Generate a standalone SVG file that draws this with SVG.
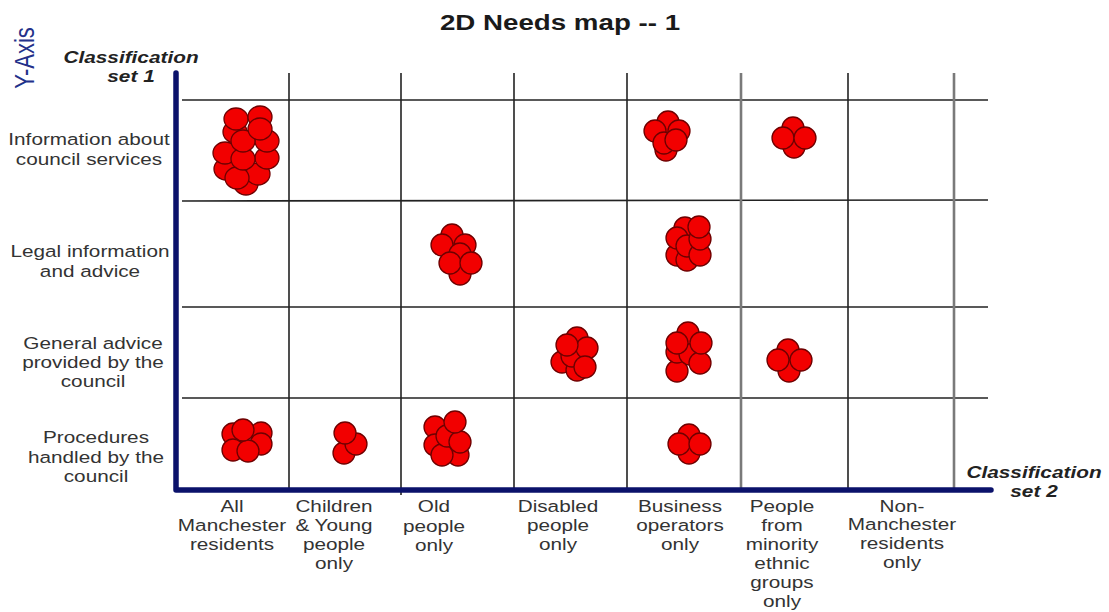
<svg xmlns="http://www.w3.org/2000/svg" width="1109" height="612" viewBox="0 0 1109 612">
<style>
.bg{fill:#fff}
.c{fill:#f20000;stroke:#6e0000;stroke-width:1.3}
.g{stroke:#222;stroke-width:1.6;fill:none}
.gg{stroke:#7a7a7a;stroke-width:2.6;fill:none}
.ax{stroke:#0b126b;stroke-width:5.5;fill:none;stroke-linecap:round;stroke-linejoin:round}
.lbl{font-family:"Liberation Sans",Arial,sans-serif;font-size:17px;fill:#333;text-anchor:middle}
.cls{font-family:"Liberation Sans",Arial,sans-serif;font-size:16px;font-weight:bold;font-style:italic;fill:#222;text-anchor:middle}
.ttl{font-family:"Liberation Sans",Arial,sans-serif;font-size:22px;font-weight:bold;fill:#1a1a1a;text-anchor:middle}
.yax{font-family:"Liberation Sans",Arial,sans-serif;font-size:22px;fill:#23318a;text-anchor:middle}
</style>
<rect class="bg" x="0" y="0" width="1109" height="612"/>

<g id="title" transform="translate(560,30) scale(1.26,1)"><text class="ttl" x="0" y="0">2D Needs map -- 1</text></g>
<g id="y-axis-label" transform="translate(34,58) rotate(-90) scale(1,1.25)"><text class="yax" x="0" y="0">Y-Axis</text></g>
<g id="class-set-1" transform="translate(131,0) scale(1.3,1)"><text class="cls" x="0" y="63">Classification</text><text class="cls" x="0" y="82">set 1</text></g>
<g id="class-set-2" transform="translate(1034,0) scale(1.3,1)"><text class="cls" x="0" y="478">Classification</text><text class="cls" x="0" y="497">set 2</text></g>

<g id="grid">
<line class="g" x1="182" y1="100" x2="988" y2="100"/>
<line class="g" x1="182" y1="201" x2="988" y2="200"/>
<line class="g" x1="182" y1="307" x2="988" y2="307"/>
<line class="g" x1="182" y1="398" x2="988" y2="398"/>
<line class="g" x1="289" y1="73" x2="289" y2="488"/>
<line class="g" x1="401" y1="73" x2="401" y2="495"/>
<line class="g" x1="514" y1="73" x2="514" y2="488"/>
<line class="g" x1="627" y1="73" x2="627" y2="488"/>
<line class="gg" x1="741" y1="73" x2="741" y2="488"/>
<line class="g" x1="848" y1="73" x2="848" y2="488"/>
<line class="gg" x1="954" y1="73" x2="954" y2="488"/>
</g>
<g id="axes">
<polyline class="ax" points="176,73 176,490 991,490"/>
</g>

<g id="row-labels">
<g id="row1" transform="translate(89,0) scale(1.22,1)"><text class="lbl" x="0" y="145">Information about</text><text class="lbl" x="0" y="165">council services</text></g>
<g id="row2" transform="translate(90,0) scale(1.22,1)"><text class="lbl" x="0" y="257">Legal information</text><text class="lbl" x="0" y="277">and advice</text></g>
<g id="row3" transform="translate(93,0) scale(1.22,1)"><text class="lbl" x="0" y="349">General advice</text><text class="lbl" x="0" y="368">provided by the</text><text class="lbl" x="0" y="387">council</text></g>
<g id="row4" transform="translate(96,0) scale(1.22,1)"><text class="lbl" x="0" y="443">Procedures</text><text class="lbl" x="0" y="463">handled by the</text><text class="lbl" x="0" y="482">council</text></g>
</g>

<g id="col-labels">
<g id="col1" transform="translate(232,0) scale(1.22,1)"><text class="lbl" x="0" y="512">All</text><text class="lbl" x="0" y="531">Manchester</text><text class="lbl" x="0" y="550">residents</text></g>
<g id="col2" transform="translate(334,0) scale(1.22,1)"><text class="lbl" x="0" y="512">Children</text><text class="lbl" x="0" y="531">&amp; Young</text><text class="lbl" x="0" y="550">people</text><text class="lbl" x="0" y="569">only</text></g>
<g id="col3" transform="translate(434,0) scale(1.22,1)"><text class="lbl" x="0" y="512">Old</text><text class="lbl" x="0" y="532">people</text><text class="lbl" x="0" y="551">only</text></g>
<g id="col4" transform="translate(558,0) scale(1.22,1)"><text class="lbl" x="0" y="512">Disabled</text><text class="lbl" x="0" y="531">people</text><text class="lbl" x="0" y="550">only</text></g>
<g id="col5" transform="translate(680,0) scale(1.22,1)"><text class="lbl" x="0" y="512">Business</text><text class="lbl" x="0" y="531">operators</text><text class="lbl" x="0" y="550">only</text></g>
<g id="col6" transform="translate(782,0) scale(1.22,1)"><text class="lbl" x="0" y="512">People</text><text class="lbl" x="0" y="531">from</text><text class="lbl" x="0" y="550">minority</text><text class="lbl" x="0" y="569">ethnic</text><text class="lbl" x="0" y="588">groups</text><text class="lbl" x="0" y="607">only</text></g>
<g id="col7" transform="translate(902,0) scale(1.22,1)"><text class="lbl" x="0" y="512">Non-</text><text class="lbl" x="0" y="530">Manchester</text><text class="lbl" x="0" y="549">residents</text><text class="lbl" x="0" y="568">only</text></g>
</g>

<g id="cluster-all-info">
<ellipse class="c" cx="246" cy="184" rx="12" ry="11"/>
<ellipse class="c" cx="258" cy="174" rx="12" ry="11"/>
<ellipse class="c" cx="226" cy="169" rx="12" ry="11"/>
<ellipse class="c" cx="237" cy="178" rx="12" ry="11"/>
<ellipse class="c" cx="267" cy="158" rx="12" ry="11"/>
<ellipse class="c" cx="225" cy="153" rx="12" ry="11"/>
<ellipse class="c" cx="243" cy="159" rx="12" ry="11"/>
<ellipse class="c" cx="235" cy="132" rx="12" ry="11"/>
<ellipse class="c" cx="267" cy="141" rx="12" ry="11"/>
<ellipse class="c" cx="243" cy="141" rx="12" ry="11"/>
<ellipse class="c" cx="236" cy="119" rx="12" ry="11"/>
<ellipse class="c" cx="260" cy="117" rx="12" ry="11"/>
<ellipse class="c" cx="260" cy="129" rx="12" ry="11"/>
</g>

<g id="cluster-business-info">
<circle class="c" cx="666" cy="150" r="11"/>
<circle class="c" cx="668" cy="122" r="11"/>
<circle class="c" cx="655" cy="131" r="11"/>
<circle class="c" cx="679" cy="131" r="11"/>
<circle class="c" cx="664" cy="143" r="11"/>
<circle class="c" cx="676" cy="140" r="11"/>
</g>

<g id="cluster-minority-info">
<circle class="c" cx="793" cy="128" r="11"/>
<circle class="c" cx="794" cy="147" r="11"/>
<circle class="c" cx="783" cy="138" r="11"/>
<circle class="c" cx="805" cy="138" r="11"/>
</g>

<g id="cluster-old-legal">
<circle class="c" cx="452" cy="235" r="11"/>
<circle class="c" cx="442" cy="245" r="11"/>
<circle class="c" cx="465" cy="245" r="11"/>
<circle class="c" cx="460" cy="254" r="11"/>
<circle class="c" cx="460" cy="274" r="11"/>
<circle class="c" cx="450" cy="263" r="11"/>
<circle class="c" cx="471" cy="263" r="11"/>
</g>

<g id="cluster-business-legal">
<circle class="c" cx="685" cy="228" r="11"/>
<circle class="c" cx="677" cy="255" r="11"/>
<circle class="c" cx="687" cy="260" r="11"/>
<circle class="c" cx="677" cy="238" r="11"/>
<circle class="c" cx="687" cy="246" r="11"/>
<circle class="c" cx="700" cy="255" r="11"/>
<circle class="c" cx="700" cy="239" r="11"/>
<circle class="c" cx="699" cy="227" r="11"/>
</g>

<g id="cluster-disabled-general">
<circle class="c" cx="562" cy="362" r="11"/>
<circle class="c" cx="577" cy="370" r="11"/>
<circle class="c" cx="577" cy="338" r="11"/>
<circle class="c" cx="572" cy="356" r="11"/>
<circle class="c" cx="587" cy="348" r="11"/>
<circle class="c" cx="567" cy="345" r="11"/>
<circle class="c" cx="585" cy="367" r="11"/>
</g>

<g id="cluster-business-general">
<circle class="c" cx="677" cy="371" r="11"/>
<circle class="c" cx="677" cy="352" r="11"/>
<circle class="c" cx="690" cy="354" r="11"/>
<circle class="c" cx="700" cy="363" r="11"/>
<circle class="c" cx="688" cy="333" r="11"/>
<circle class="c" cx="677" cy="343" r="11"/>
<circle class="c" cx="701" cy="343" r="11"/>
</g>

<g id="cluster-minority-general">
<circle class="c" cx="788" cy="350" r="11"/>
<circle class="c" cx="789" cy="371" r="11"/>
<circle class="c" cx="778" cy="360" r="11"/>
<circle class="c" cx="801" cy="360" r="11"/>
</g>

<g id="cluster-all-procedures">
<circle class="c" cx="233" cy="434" r="11"/>
<circle class="c" cx="261" cy="433" r="11"/>
<circle class="c" cx="233" cy="450" r="11"/>
<circle class="c" cx="261" cy="444" r="11"/>
<circle class="c" cx="248" cy="451" r="11"/>
<circle class="c" cx="243" cy="430" r="11"/>
</g>

<g id="cluster-children-procedures">
<circle class="c" cx="344" cy="453" r="11"/>
<circle class="c" cx="356" cy="444" r="11"/>
<circle class="c" cx="345" cy="433" r="11"/>
</g>

<g id="cluster-old-procedures">
<circle class="c" cx="435" cy="427" r="11"/>
<circle class="c" cx="435" cy="445" r="11"/>
<circle class="c" cx="458" cy="455" r="11"/>
<circle class="c" cx="442" cy="455" r="11"/>
<circle class="c" cx="447" cy="436" r="11"/>
<circle class="c" cx="460" cy="442" r="11"/>
<circle class="c" cx="455" cy="422" r="11"/>
</g>

<g id="cluster-business-procedures">
<circle class="c" cx="689" cy="435" r="11"/>
<circle class="c" cx="689" cy="453" r="11"/>
<circle class="c" cx="679" cy="444" r="11"/>
<circle class="c" cx="700" cy="444" r="11"/>
</g>
</svg>
